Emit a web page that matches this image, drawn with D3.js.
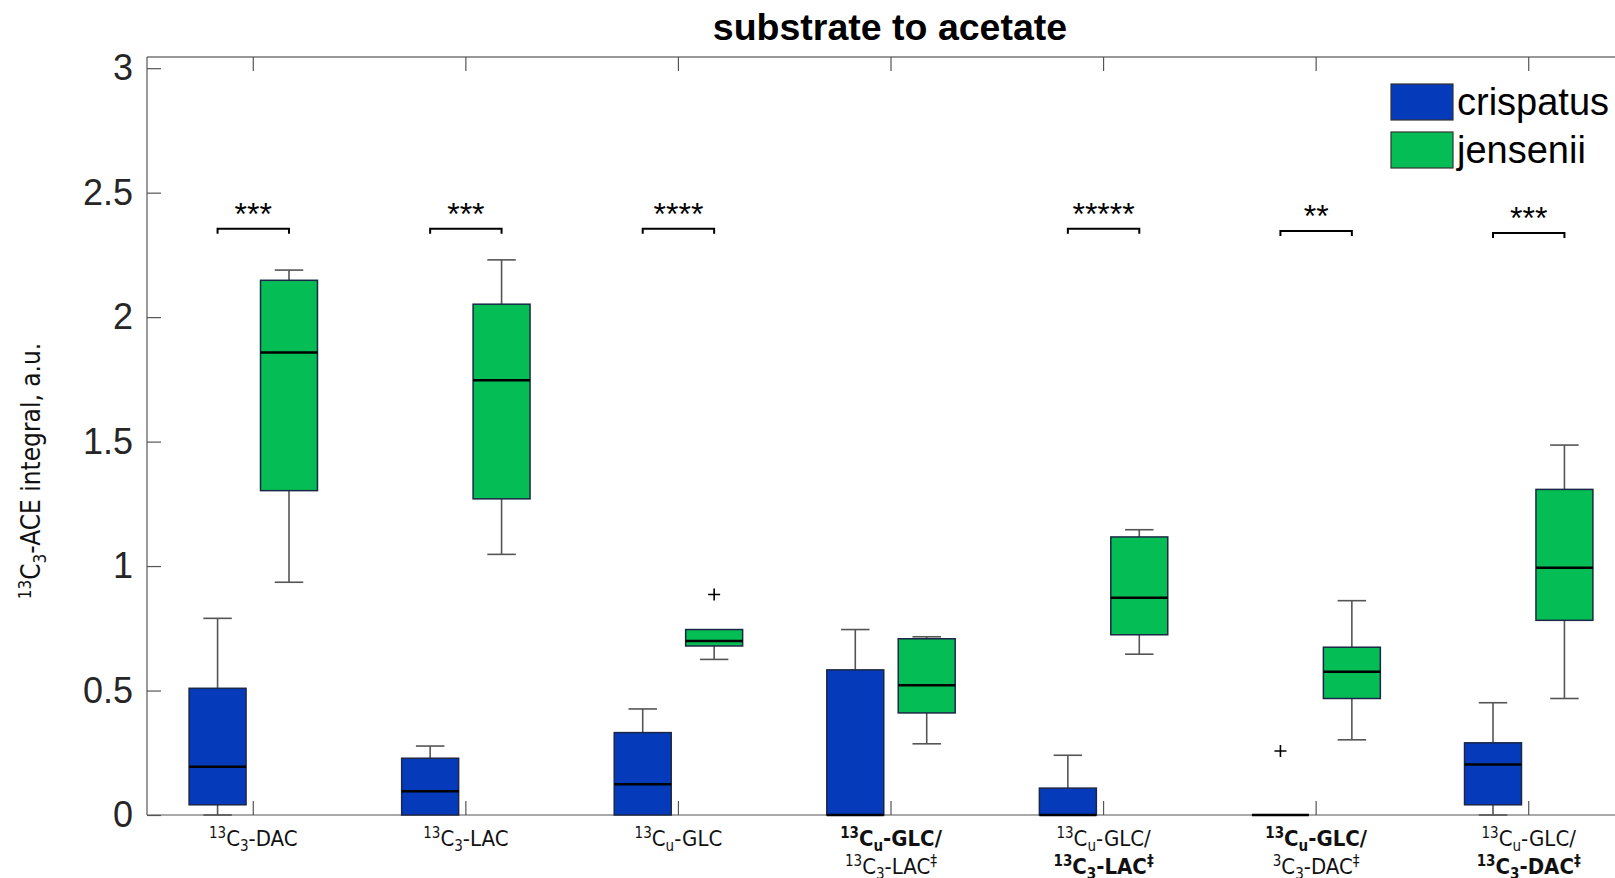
<!DOCTYPE html>
<html>
<head>
<meta charset="utf-8">
<script src="https://cdn.jsdelivr.net/npm/d3@7"></script>
<style>
  body { margin: 0; background: #fff; }
  svg { display: block; }
</style>
</head>
<body>
<svg id="chart" width="1615" height="878"></svg>
<script>
// x labels: each group has two lines, each line = {bold, segs:[[text, "sup"|"sub"|undefined]]}
const categorias = [
  [{ bold: false, segs: [["13", "sup"], ["C"], ["3", "sub"], ["-DAC"]] }],
  [{ bold: false, segs: [["13", "sup"], ["C"], ["3", "sub"], ["-LAC"]] }],
  [{ bold: false, segs: [["13", "sup"], ["C"], ["u", "sub"], ["-GLC"]] }],
  [{ bold: true, segs: [["13", "sup"], ["C"], ["u", "sub"], ["-GLC/"]] },
   { bold: false, segs: [["13", "sup"], ["C"], ["3", "sub"], ["-LAC"], ["‡", "sup"]] }],
  [{ bold: false, segs: [["13", "sup"], ["C"], ["u", "sub"], ["-GLC/"]] },
   { bold: true, segs: [["13", "sup"], ["C"], ["3", "sub"], ["-LAC"], ["‡", "sup"]] }],
  [{ bold: true, segs: [["13", "sup"], ["C"], ["u", "sub"], ["-GLC/"]] },
   { bold: false, segs: [["3", "sup"], ["C"], ["3", "sub"], ["-DAC"], ["‡", "sup"]] }],
  [{ bold: false, segs: [["13", "sup"], ["C"], ["u", "sub"], ["-GLC/"]] },
   { bold: true, segs: [["13", "sup"], ["C"], ["3", "sub"], ["-DAC"], ["‡", "sup"]] }]
];

const series = ["crispatus", "jensenii"];
const cores = { crispatus: "#053bbb", jensenii: "#05bd55" };

// crispatus: whisker baixo, Q1, mediana, Q3, whisker alto
const crispLo  = [0, 0, 0, 0, 0, 0, 0];
const crispQ1  = [0.041, 0, 0, 0, 0, 0, 0.041];
const crispMed = [0.194, 0.095, 0.124, 0, 0, 0, 0.203];
const crispQ3  = [0.509, 0.228, 0.331, 0.583, 0.108, 0, 0.290];
const crispHi  = [0.790, 0.277, 0.426, 0.745, 0.240, 0, 0.451];
const crispOut = [[], [], [], [], [], [0.257], []];

// jensenii
const jensLo  = [0.935, 1.047, 0.625, 0.286, 0.646, 0.302, 0.468];
const jensQ1  = [1.303, 1.270, 0.679, 0.410, 0.724, 0.468, 0.782];
const jensMed = [1.858, 1.746, 0.699, 0.521, 0.873, 0.575, 0.993];
const jensQ3  = [2.148, 2.052, 0.745, 0.708, 1.117, 0.674, 1.308];
const jensHi  = [2.189, 2.230, 0.745, 0.716, 1.146, 0.861, 1.486];
const jensOut = [[], [], [0.886], [], [], [], []];

const estrelas = ["***", "***", "****", "", "*****", "**", "***"];
const colchete = [2.355, 2.355, 2.355, null, 2.355, 2.346, 2.338];

const yTicks = [0, 0.5, 1, 1.5, 2, 2.5, 3];

const svg = d3.select("#chart");
const x = d3.scaleLinear().domain([0.5, 7.5]).range([147, 1635]);
const y = d3.scaleLinear().domain([0, 3.045]).range([815, 57]);
const offset = 0.168, boxW = 0.268;

const caixas = [];
categorias.forEach((c, i) => {
  caixas.push({ s: "crispatus", pos: i + 1 - offset, lo: crispLo[i], q1: crispQ1[i], med: crispMed[i], q3: crispQ3[i], hi: crispHi[i], out: crispOut[i] });
  caixas.push({ s: "jensenii", pos: i + 1 + offset, lo: jensLo[i], q1: jensQ1[i], med: jensMed[i], q3: jensQ3[i], hi: jensHi[i], out: jensOut[i] });
});

const halfW = (x(boxW) - x(0)) / 2;
const capW = halfW / 2;

// eixos (frame)
const axisCor = "#555";
svg.append("line").attr("x1", x(0.5)).attr("x2", 1615).attr("y1", y.range()[1]).attr("y2", y.range()[1])
  .attr("stroke", "#333").attr("stroke-width", 1.2);
svg.append("line").attr("x1", x(0.5)).attr("x2", 1615).attr("y1", y(0)).attr("y2", y(0))
  .attr("stroke", axisCor).attr("stroke-width", 1.2);
svg.append("line").attr("x1", x(0.5)).attr("x2", x(0.5)).attr("y1", y(0)).attr("y2", y.range()[1])
  .attr("stroke", axisCor).attr("stroke-width", 1.2);

const yAxis = svg.append("g")
  .attr("transform", `translate(${x(0.5)},0)`)
  .call(d3.axisLeft(y).tickValues(yTicks).tickSize(-14).tickPadding(14).tickFormat(d3.format("")));
yAxis.select(".domain").remove();
yAxis.selectAll(".tick line").attr("stroke", axisCor).attr("stroke-width", 1.2);
yAxis.selectAll(".tick text").attr("fill", "#262626").style("font-family", "Liberation Sans, Arial, sans-serif").style("font-size", "36px");

const grupos = d3.range(1, 8);
svg.append("g").selectAll("line.tb").data(grupos).join("line")
  .attr("x1", d => x(d)).attr("x2", d => x(d)).attr("y1", y(0)).attr("y2", y(0) - 14)
  .attr("stroke", axisCor).attr("stroke-width", 1.2);
svg.append("g").selectAll("line.tt").data(grupos).join("line")
  .attr("x1", d => x(d)).attr("x2", d => x(d)).attr("y1", y.range()[1]).attr("y2", y.range()[1] + 14)
  .attr("stroke", axisCor).attr("stroke-width", 1.2);

// boxplots
const g = svg.append("g");
const bx = g.selectAll("g.box").data(caixas).join("g");

bx.append("line").attr("x1", d => x(d.pos)).attr("x2", d => x(d.pos))
  .attr("y1", d => y(d.hi)).attr("y2", d => y(d.q3)).attr("stroke", "#555").attr("stroke-width", 1.6);
bx.append("line").attr("x1", d => x(d.pos)).attr("x2", d => x(d.pos))
  .attr("y1", d => y(d.lo)).attr("y2", d => y(d.q1)).attr("stroke", "#555").attr("stroke-width", 1.6);
bx.filter(d => d.hi > d.q3).append("line").attr("x1", d => x(d.pos) - capW).attr("x2", d => x(d.pos) + capW)
  .attr("y1", d => y(d.hi)).attr("y2", d => y(d.hi)).attr("stroke", "#555").attr("stroke-width", 1.6);
bx.filter(d => d.lo < d.q1).append("line").attr("x1", d => x(d.pos) - capW).attr("x2", d => x(d.pos) + capW)
  .attr("y1", d => y(d.lo)).attr("y2", d => y(d.lo)).attr("stroke", "#555").attr("stroke-width", 1.6);

bx.append("rect")
  .attr("x", d => x(d.pos) - halfW).attr("width", 2 * halfW)
  .attr("y", d => y(d.q3)).attr("height", d => y(d.q1) - y(d.q3))
  .attr("fill", d => cores[d.s]).attr("stroke", "#1c2747").attr("stroke-width", 1.5);

bx.append("line").attr("x1", d => x(d.pos) - halfW).attr("x2", d => x(d.pos) + halfW)
  .attr("y1", d => y(d.med)).attr("y2", d => y(d.med)).attr("stroke", "#000").attr("stroke-width", 2.5);

// outliers "+"
const outs = caixas.flatMap(d => d.out.map(v => ({ pos: d.pos, v })));
svg.append("g").selectAll("path").data(outs).join("path")
  .attr("d", d => `M${x(d.pos) - 6},${y(d.v)}H${x(d.pos) + 6}M${x(d.pos)},${y(d.v) - 6}V${y(d.v) + 6}`)
  .attr("stroke", "#000").attr("stroke-width", 1.6).attr("fill", "none");

// significância
const sig = grupos.map((gr, i) => ({ gr, s: estrelas[i], v: colchete[i] })).filter(d => d.v != null);
const sg = svg.append("g").selectAll("g").data(sig).join("g");
sg.append("path")
  .attr("d", d => `M${x(d.gr - offset)},${y(d.v) + 5}V${y(d.v)}H${x(d.gr + offset)}V${y(d.v) + 5}`)
  .attr("stroke", "#000").attr("stroke-width", 2).attr("fill", "none");
sg.append("text").attr("x", d => x(d.gr)).attr("y", d => y(d.v) - 4)
  .attr("text-anchor", "middle")
  .style("font-family", "Liberation Sans, Arial, sans-serif").style("font-size", "32px")
  .text(d => d.s);

// rótulos do eixo x
const fonteRotulo = "'Liberation Sans Narrow', 'DejaVu Sans Condensed', sans-serif";
categorias.forEach((linhas, i) => {
  linhas.forEach((linha, j) => {
    const t = svg.append("text")
      .attr("x", x(i + 1)).attr("y", 846 + j * 28)
      .attr("text-anchor", "middle")
      .style("font-family", fonteRotulo).style("font-size", "22px")
      .style("font-weight", linha.bold ? "bold" : "normal")
      .attr("fill", "#111");
    let shift = 0;
    linha.segs.forEach(([txt, tipo]) => {
      const alvo = tipo === "sup" ? -8 : tipo === "sub" ? 5 : 0;
      t.append("tspan").attr("dy", alvo - shift)
        .style("font-size", tipo ? "15px" : "22px").text(txt);
      shift = alvo;
    });
  });
});

// rótulo eixo y
const yl = svg.append("text")
  .attr("transform", `translate(40,471) rotate(-90)`)
  .attr("text-anchor", "middle")
  .style("font-family", fonteRotulo).style("font-size", "26px").attr("fill", "#111");
yl.append("tspan").attr("dy", -9).style("font-size", "17px").text("13");
yl.append("tspan").attr("dy", 9).text("C");
yl.append("tspan").attr("dy", 6).style("font-size", "17px").text("3");
yl.append("tspan").attr("dy", -6).text("-ACE integral, a.u.");

// título
svg.append("text").attr("x", 890).attr("y", 40).attr("text-anchor", "middle")
  .style("font-family", "Liberation Sans, Arial, sans-serif").style("font-size", "37.5px").style("font-weight", "bold")
  .text("substrate to acetate");

// legenda
const leg = svg.append("g").selectAll("g").data(series).join("g")
  .attr("transform", (d, i) => `translate(1391,${84 + i * 48})`);
leg.append("rect").attr("width", 62).attr("height", 36)
  .attr("fill", d => cores[d]).attr("stroke", "#333").attr("stroke-width", 1.2);
leg.append("text").attr("x", 66).attr("y", 31)
  .style("font-family", "Liberation Sans, Arial, sans-serif").style("font-size", "38px")
  .text(d => d);
</script>
</body>
</html>
